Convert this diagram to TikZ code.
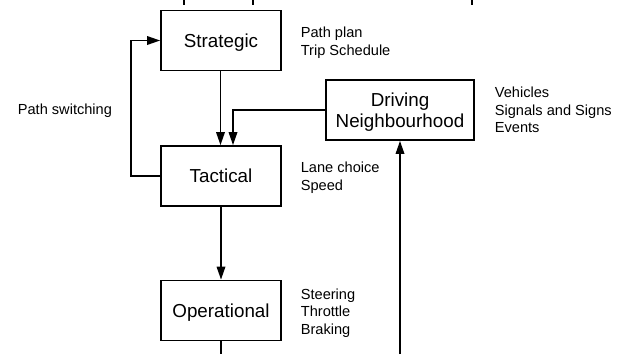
\documentclass[tikz,border=0pt]{standalone}
\usepackage{fontspec}
\setmainfont{Liberation Sans}
\usetikzlibrary{arrows.meta}
\begin{document}
\begin{tikzpicture}[x=1pt,y=-1pt,
  line width=1.7pt,
  box/.style={draw, line width=1.7pt, rectangle, minimum width=120pt, minimum height=60pt,
    inner sep=0pt, align=center, text depth=0pt, font=\fontsize{18.8}{21}\selectfont},
  note/.style={anchor=north west, inner sep=0pt, align=left, font=\fontsize{14.6}{17.6}\selectfont},
  arr/.style={-{Triangle[length=13pt,width=8.5pt]}, line width=1.7pt}]
\useasboundingbox[fill=white] (0,0) rectangle (622,354);
\node[box] (S) at (221,40.5) {Strategic};
\node[box] (T) at (221,176) {Tactical};
\node[box] (O) at (221,310.5) {Operational};
\node[box, minimum width=148pt] (D) at (400,110) {Driving\\Neighbourhood};
\node[note] (nS) at (300,26.3) {Path plan\\Trip Schedule};
\node[note] (nD) at (494,86.3) {Vehicles\\Signals and Signs\\Events};
\node[note] (nT) at (300,161) {Lane choice\\Speed};
\node[note] (nO) at (300,287.8) {Steering\\Throttle\\Braking};
\node[note] (nP) at (17,102.8) {Path switching};
\coordinate (ob) at (221,354);
\coordinate (db) at (400,354);
\coordinate (t1a) at (184.3,0); \coordinate (t1b) at (184.3,4.5);
\coordinate (t2a) at (252.7,0); \coordinate (t2b) at (252.7,4.5);
\coordinate (t3a) at (471.7,0); \coordinate (t3b) at (471.7,4.5);
\draw (t1a) -- (t1b);
\draw (t2a) -- (t2b);
\draw (t3a) -- (t3b);
\draw[arr] ([xshift=-0.5pt]S.south) -- ([xshift=-0.5pt]T.north);
\draw[arr] (D.west) -| ([xshift=12pt]T.north);
\draw[arr] (T.west) -- ++(-29,0) |- (S.west);
\draw[arr] (T.south) -- (O.north);
\draw (O.south) -- (ob);
\draw[arr] (db) -- (D.south);
\end{tikzpicture}
\end{document}
